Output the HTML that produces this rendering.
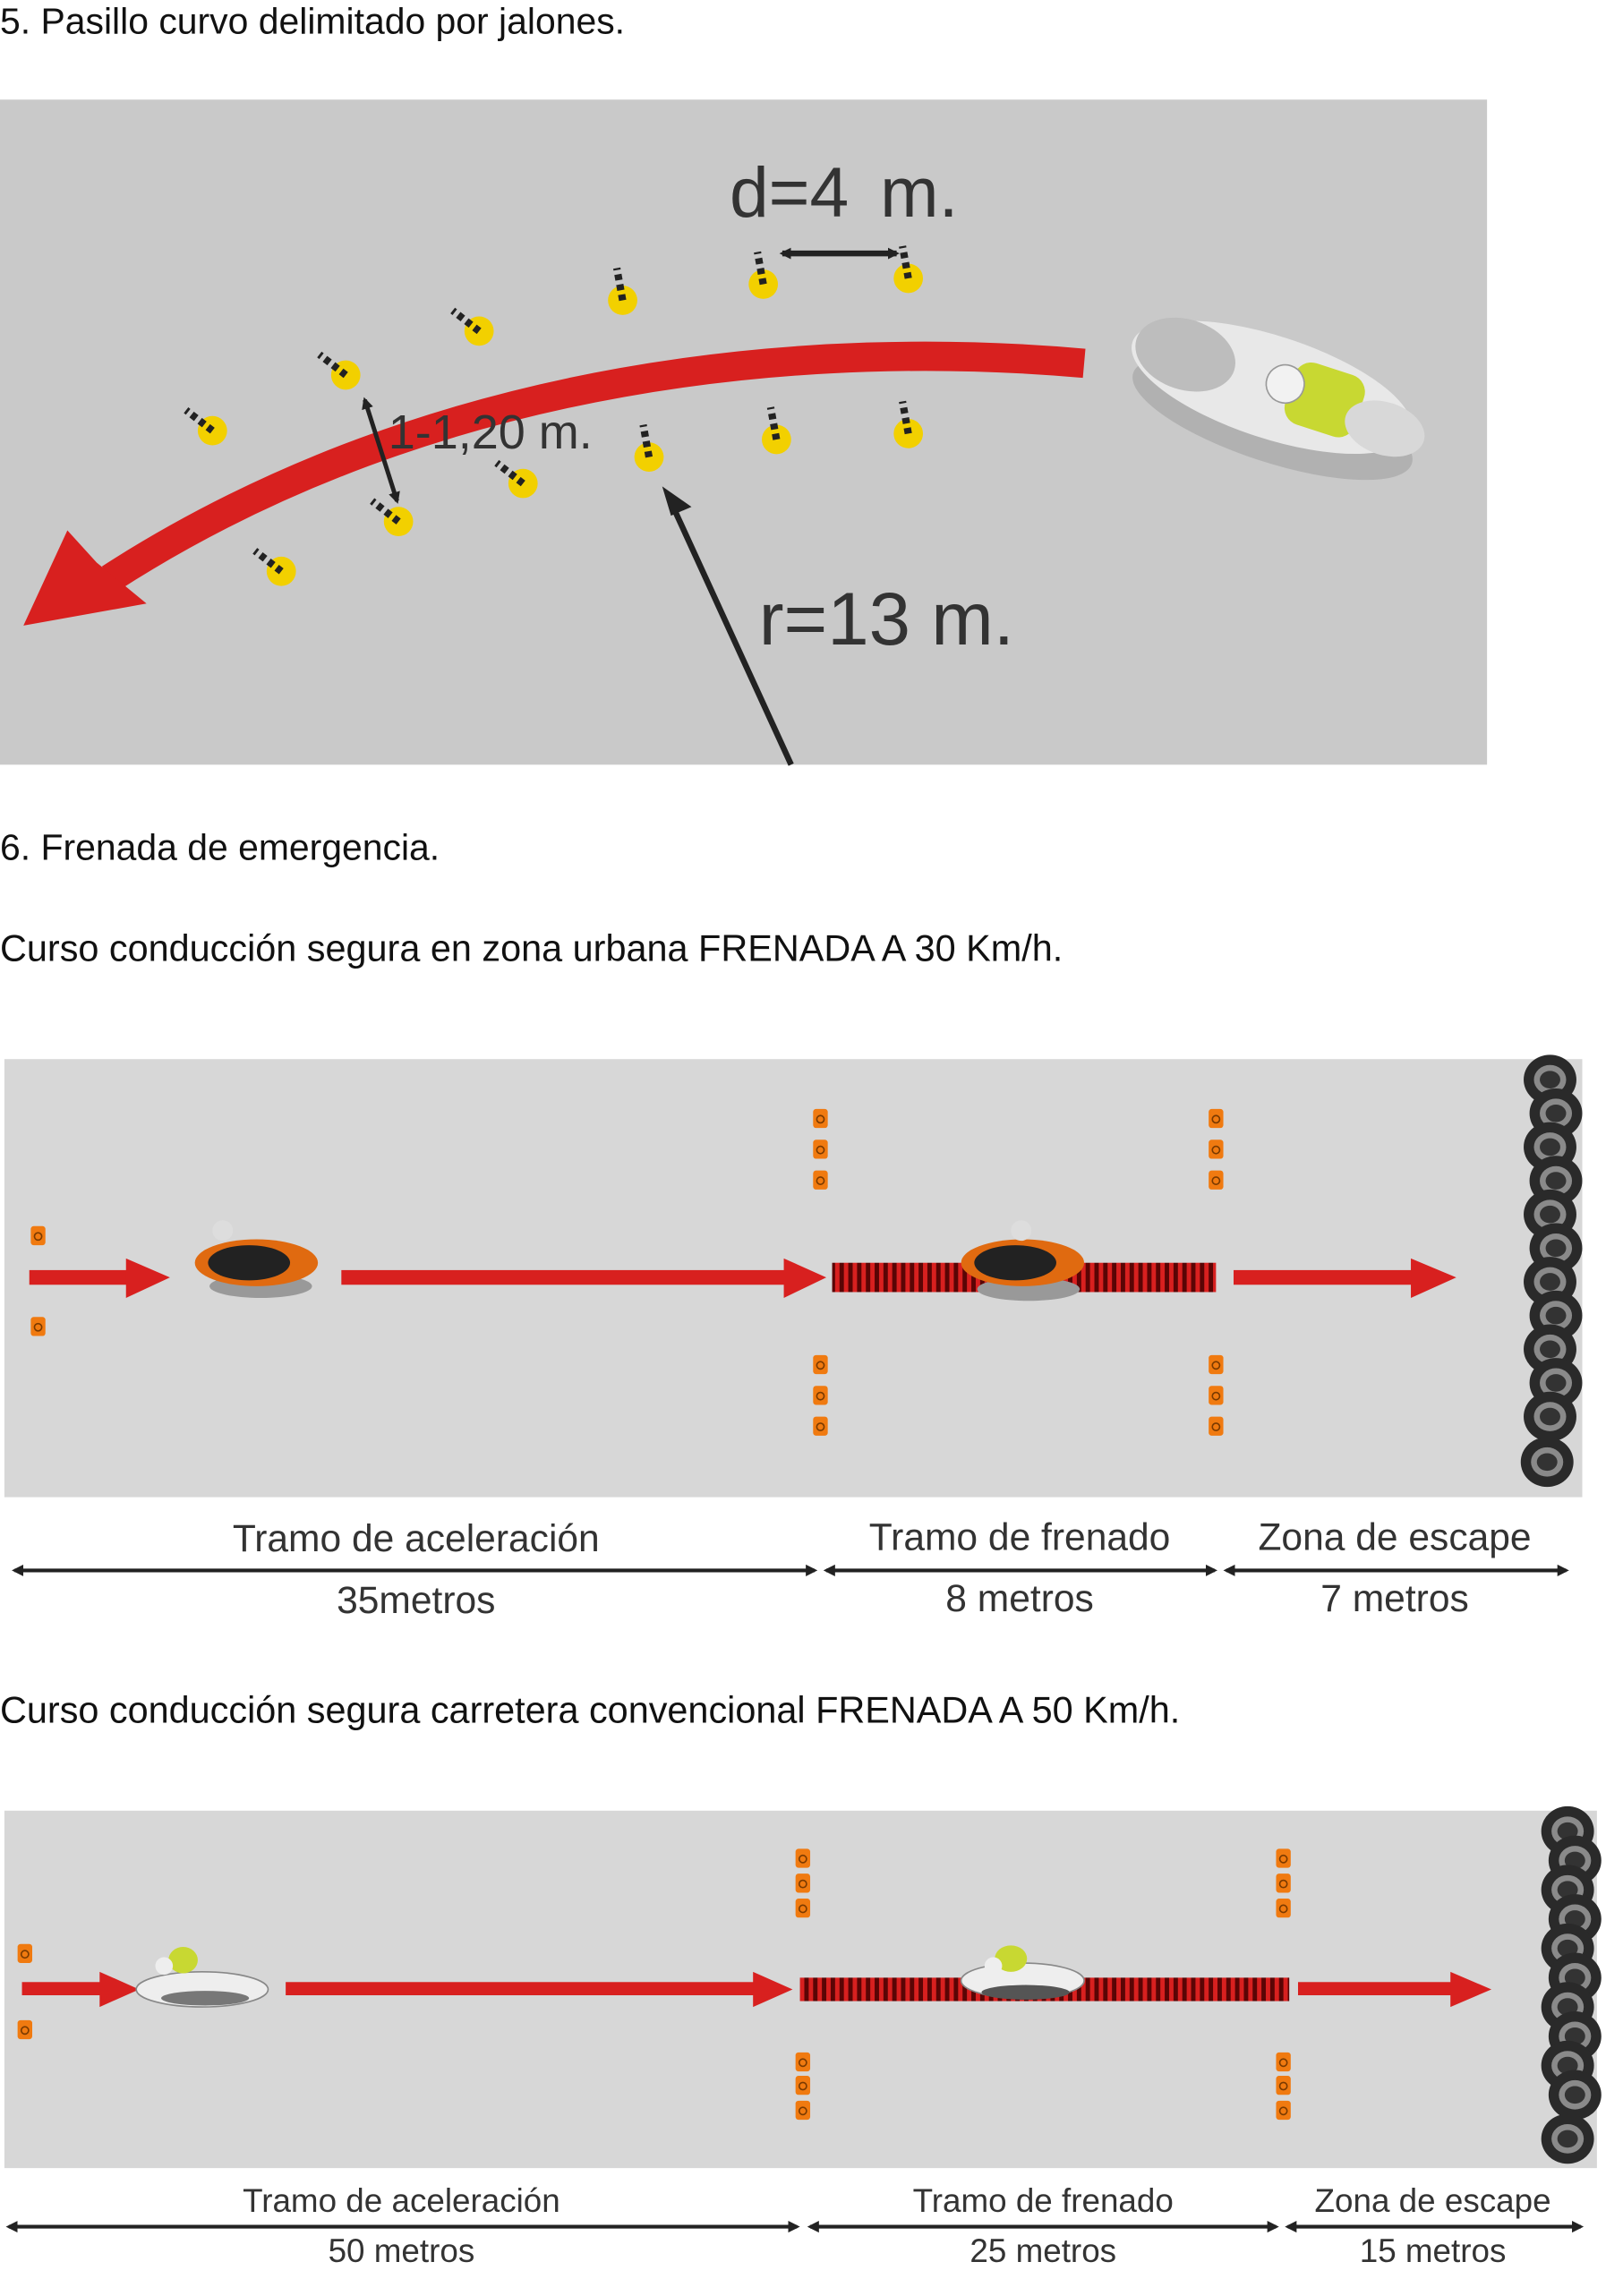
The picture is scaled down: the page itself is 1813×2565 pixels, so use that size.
<!DOCTYPE html>
<html><head><meta charset="utf-8"><style>
html,body{margin:0;padding:0;background:#fff;}
svg{display:block;}
text{font-family:"Liberation Sans",sans-serif;}
</style></head><body>
<svg width="1813" height="2565" viewBox="0 0 1107.7 1567.3" preserveAspectRatio="xMinYMin meet" xmlns="http://www.w3.org/2000/svg">
<defs>
<g id="cone"><circle r="10" fill="#f2d000"/><line x1="0" y1="0" x2="-18" y2="-14" stroke="#222" stroke-width="5" stroke-dasharray="4 3"/></g>
<g id="cone2"><circle r="10" fill="#f2d000"/><line x1="0" y1="0" x2="-4" y2="-22" stroke="#222" stroke-width="5" stroke-dasharray="4 3"/></g>
<g id="oc"><rect x="-5" y="-7" width="10" height="13" rx="2" fill="#f07a10"/><circle cx="0" cy="0" r="2.5" fill="none" stroke="#7a3a00" stroke-width="1"/></g>
<g id="tire"><ellipse rx="18" ry="17" fill="#2a2a2a"/><ellipse rx="11" ry="10" fill="#8a8a8a"/><ellipse rx="7" ry="6" fill="#333"/></g>
<pattern id="hatch" width="6" height="20" patternUnits="userSpaceOnUse"><rect width="6" height="20" fill="#5a0505"/><rect width="3" height="20" fill="#d8201f"/></pattern>
<marker id="ah" markerWidth="8" markerHeight="8" refX="6" refY="4" orient="auto-start-reverse" markerUnits="userSpaceOnUse"><path d="M0,0 L8,4 L0,8 Z" fill="#222"/></marker>
</defs>

<text x="0" y="23" font-size="25" fill="#111">5. Pasillo curvo delimitado por jalones.</text>

<rect x="0" y="68" width="1015" height="454" fill="#c9c9c9"/>
<path d="M740,248 C 560,232 300,250 75,395" fill="none" stroke="#d8201f" stroke-width="20"/>
<polygon points="16,427 46,362 66,384 100,412" fill="#d8201f"/>
<use href="#cone" x="145" y="294"/><use href="#cone" x="236" y="256"/><use href="#cone" x="327" y="226"/>
<use href="#cone2" x="425" y="205"/><use href="#cone2" x="521" y="194"/><use href="#cone2" x="620" y="190"/>
<use href="#cone" x="192" y="390"/><use href="#cone" x="272" y="356"/><use href="#cone" x="357" y="330"/>
<use href="#cone2" x="443" y="312"/><use href="#cone2" x="530" y="300"/><use href="#cone2" x="620" y="296"/>
<text x="498" y="148" font-size="48" fill="#333" word-spacing="8">d=4 m.</text>
<line x1="534" y1="173" x2="612" y2="173" stroke="#222" stroke-width="4" marker-start="url(#ah)" marker-end="url(#ah)"/>
<text x="265" y="306" font-size="33" fill="#333">1-1,20 m.</text>
<line x1="249" y1="273" x2="271" y2="342" stroke="#222" stroke-width="3" marker-start="url(#ah)" marker-end="url(#ah)"/>
<text x="518" y="440" font-size="51" fill="#333">r=13 m.</text>
<line x1="540" y1="522" x2="459" y2="345" stroke="#222" stroke-width="4"/>
<polygon points="452,332 472,346 458,352" fill="#222"/>
<g transform="rotate(18 870 265)">
<ellipse cx="875" cy="285" rx="100" ry="30" fill="#9a9a9a" opacity="0.5"/>
<ellipse cx="868" cy="265" rx="100" ry="35" fill="#e8e8e8"/>
<ellipse cx="805" cy="262" rx="35" ry="24" fill="#bdbdbd"/>
<rect x="880" y="240" width="50" height="44" rx="12" fill="#c8d832"/>
<circle cx="876" cy="260" r="13" fill="#f2f2f2" stroke="#999"/>
<ellipse cx="950" cy="268" rx="28" ry="18" fill="#d8d8d8"/>
</g>

<text x="0" y="587" font-size="25" fill="#111">6. Frenada de emergencia.</text>
<text x="0" y="656" font-size="25.3" fill="#111">Curso conducción segura en zona urbana FRENADA A 30 Km/h.</text>

<rect x="3" y="723" width="1077" height="299" fill="#d7d7d7"/>
<g fill="#d8201f">
<rect x="20" y="867" width="68" height="10"/><polygon points="86,859 116,872 86,886"/>
<rect x="233" y="867" width="305" height="10"/><polygon points="535,859 564,872 535,886"/>
<rect x="842" y="867" width="125" height="10"/><polygon points="963,859 994,872 963,886"/>
</g>
<rect x="568" y="862" width="262" height="20" fill="url(#hatch)"/>
<g><ellipse cx="178" cy="878" rx="35" ry="8" fill="#999"/><ellipse cx="175" cy="862" rx="42" ry="16" fill="#e06a10"/><ellipse cx="170" cy="862" rx="28" ry="12" fill="#222"/><circle cx="152" cy="840" r="7" fill="#ddd"/></g>
<g><ellipse cx="702" cy="880" rx="35" ry="8" fill="#999"/><ellipse cx="698" cy="862" rx="42" ry="16" fill="#e06a10"/><ellipse cx="693" cy="862" rx="28" ry="12" fill="#222"/><circle cx="697" cy="840" r="7" fill="#ddd"/></g>
<use href="#oc" x="560" y="764"/><use href="#oc" x="560" y="785"/><use href="#oc" x="560" y="806"/>
<use href="#oc" x="560" y="932"/><use href="#oc" x="560" y="953"/><use href="#oc" x="560" y="974"/>
<use href="#oc" x="830" y="764"/><use href="#oc" x="830" y="785"/><use href="#oc" x="830" y="806"/>
<use href="#oc" x="830" y="932"/><use href="#oc" x="830" y="953"/><use href="#oc" x="830" y="974"/>
<use href="#oc" x="26" y="844"/><use href="#oc" x="26" y="906"/>
<g>
<use href="#tire" x="1058" y="737"/><use href="#tire" x="1062" y="760"/><use href="#tire" x="1058" y="783"/><use href="#tire" x="1062" y="806"/><use href="#tire" x="1058" y="829"/><use href="#tire" x="1062" y="852"/><use href="#tire" x="1058" y="875"/><use href="#tire" x="1062" y="898"/><use href="#tire" x="1058" y="921"/><use href="#tire" x="1062" y="944"/><use href="#tire" x="1058" y="967"/><use href="#tire" x="1056" y="998"/>
</g>
<g font-size="26" fill="#333" text-anchor="middle">
<text x="284" y="1059">Tramo de aceleración</text>
<text x="696" y="1058">Tramo de frenado</text>
<text x="952" y="1058">Zona de escape</text>
<text x="284" y="1101">35metros</text>
<text x="696" y="1100">8 metros</text>
<text x="952" y="1100">7 metros</text>
</g>
<g stroke="#222" stroke-width="2.5">
<line x1="10" y1="1072" x2="556" y2="1072" marker-start="url(#ah)" marker-end="url(#ah)"/>
<line x1="564" y1="1072" x2="829" y2="1072" marker-start="url(#ah)" marker-end="url(#ah)"/>
<line x1="837" y1="1072" x2="1069" y2="1072" marker-start="url(#ah)" marker-end="url(#ah)"/>
</g>

<text x="0" y="1176" font-size="25.3" fill="#111">Curso conducción segura carretera convencional FRENADA A 50 Km/h.</text>

<rect x="3" y="1236" width="1087" height="244" fill="#d7d7d7"/>
<g fill="#d8201f">
<rect x="15" y="1353" width="55" height="9"/><polygon points="68,1346 95,1358 68,1370"/>
<rect x="195" y="1353" width="322" height="9"/><polygon points="514,1346 541,1358 514,1370"/>
<rect x="886" y="1353" width="108" height="9"/><polygon points="990,1346 1018,1358 990,1370"/>
</g>
<rect x="546" y="1350" width="334" height="16" fill="url(#hatch)"/>
<g><ellipse cx="138" cy="1358" rx="45" ry="12" fill="#eee" stroke="#888"/><ellipse cx="125" cy="1338" rx="10" ry="9" fill="#c8d832"/><circle cx="112" cy="1342" r="6" fill="#eee"/><ellipse cx="140" cy="1364" rx="30" ry="5" fill="#777"/></g>
<g><ellipse cx="698" cy="1352" rx="42" ry="12" fill="#eee" stroke="#888"/><ellipse cx="690" cy="1337" rx="11" ry="9" fill="#c8d832"/><circle cx="678" cy="1342" r="6" fill="#eee"/><ellipse cx="700" cy="1360" rx="30" ry="5" fill="#555"/></g>
<use href="#oc" x="548" y="1269"/><use href="#oc" x="548" y="1286"/><use href="#oc" x="548" y="1303"/>
<use href="#oc" x="548" y="1408"/><use href="#oc" x="548" y="1424"/><use href="#oc" x="548" y="1441"/>
<use href="#oc" x="876" y="1269"/><use href="#oc" x="876" y="1286"/><use href="#oc" x="876" y="1303"/>
<use href="#oc" x="876" y="1408"/><use href="#oc" x="876" y="1424"/><use href="#oc" x="876" y="1441"/>
<use href="#oc" x="17" y="1334"/><use href="#oc" x="17" y="1386"/>
<g>
<use href="#tire" x="1070" y="1250"/><use href="#tire" x="1075" y="1270"/><use href="#tire" x="1070" y="1290"/><use href="#tire" x="1075" y="1310"/><use href="#tire" x="1070" y="1330"/><use href="#tire" x="1075" y="1350"/><use href="#tire" x="1070" y="1370"/><use href="#tire" x="1075" y="1390"/><use href="#tire" x="1070" y="1410"/><use href="#tire" x="1075" y="1430"/><use href="#tire" x="1070" y="1460"/>
</g>
<g font-size="22.5" fill="#333" text-anchor="middle">
<text x="274" y="1510">Tramo de aceleración</text>
<text x="712" y="1510">Tramo de frenado</text>
<text x="978" y="1510">Zona de escape</text>
<text x="274" y="1544">50 metros</text>
<text x="712" y="1544">25 metros</text>
<text x="978" y="1544">15 metros</text>
</g>
<g stroke="#222" stroke-width="2.5">
<line x1="6" y1="1520" x2="544" y2="1520" marker-start="url(#ah)" marker-end="url(#ah)"/>
<line x1="553" y1="1520" x2="871" y2="1520" marker-start="url(#ah)" marker-end="url(#ah)"/>
<line x1="879" y1="1520" x2="1079" y2="1520" marker-start="url(#ah)" marker-end="url(#ah)"/>
</g>
</svg>
</body></html>
